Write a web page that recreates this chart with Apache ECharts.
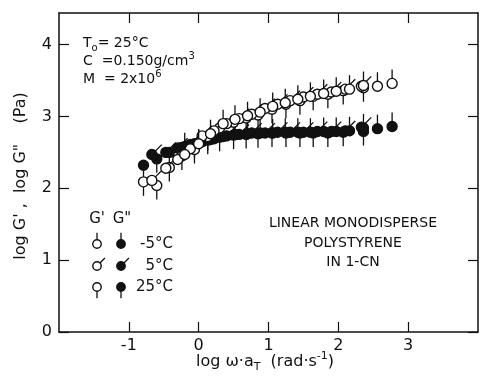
<!DOCTYPE html>
<html>
<head>
<meta charset="utf-8">
<script src="https://cdn.jsdelivr.net/npm/echarts@6/dist/echarts.min.js"></script>
<style>
  html, body { margin: 0; padding: 0; background: #fff; }
  #main { width: 480px; height: 381px; }
</style>
</head>
<body>
<div id="main"></div>
<script>
// tick positions
var xTicks = [-1, 0, 1, 2, 3];
var yTicks = [0, 1, 2, 3, 4];

// -5°C (pip up)
var xM5   = [-0.2, 0.0, 0.17, 0.35, 0.52, 0.7, 0.88, 1.06, 1.24, 1.42, 1.6, 1.79, 1.97, 2.16, 2.36, 2.56, 2.77];
var gpM5  = [2.47, 2.62, 2.76, 2.90, 2.96, 3.01, 3.06, 3.14, 3.19, 3.24, 3.28, 3.32, 3.35, 3.38, 3.43, 3.42, 3.46];
var gppM5 = [2.58, 2.63, 2.68, 2.72, 2.75, 2.76, 2.77, 2.77, 2.78, 2.78, 2.78, 2.79, 2.79, 2.80, 2.84, 2.83, 2.86];

// 5°C (pip diagonal)
var x5   = [-0.67, -0.47, -0.3, -0.12, 0.05, 0.22, 0.4, 0.58, 0.76, 0.95, 1.13, 1.31, 1.5, 1.7, 1.9, 2.1, 2.33];
var gp5  = [2.11, 2.28, 2.40, 2.55, 2.73, 2.80, 2.90, 2.97, 3.03, 3.11, 3.17, 3.22, 3.27, 3.31, 3.34, 3.38, 3.42];
var gpp5 = [2.47, 2.50, 2.56, 2.61, 2.65, 2.69, 2.73, 2.75, 2.77, 2.77, 2.78, 2.78, 2.78, 2.79, 2.79, 2.80, 2.85];

// 25°C (pip down)
var x25   = [-0.79, -0.6, -0.42, -0.24, -0.06, 0.13, 0.3, 0.5, 0.68, 0.85, 1.05, 1.25, 1.45, 1.64, 1.85, 2.07, 2.36];
var gp25  = [2.09, 2.04, 2.29, 2.45, 2.54, 2.72, 2.84, 2.92, 2.98, 3.02, 3.10, 3.17, 3.22, 3.28, 3.31, 3.36, 3.40];
var gpp25 = [2.32, 2.41, 2.50, 2.57, 2.62, 2.67, 2.71, 2.74, 2.75, 2.76, 2.77, 2.77, 2.77, 2.77, 2.77, 2.78, 2.79];

var ink = '#111';
var font = 'DejaVu Sans';
var R = 5, PIP = 9;
// pip directions: up, diagonal, down
var pipDir = [[0, -1], [0.7071, -0.7071], [0, 1]];

function pairs(xs, ys) {
    return xs.map(function (x, i) { return [x, ys[i]]; });
}

function marker(cx, cy, r, len, dir, filled) {
    return [{
        type: 'line',
        shape: {
            x1: cx + dir[0] * r, y1: cy + dir[1] * r,
            x2: cx + dir[0] * (r + len), y2: cy + dir[1] * (r + len)
        },
        style: { stroke: ink, lineWidth: 1.3 }
    }, {
        type: 'circle',
        shape: { cx: cx, cy: cy, r: r },
        style: { fill: filled ? ink : '#fff', stroke: ink, lineWidth: 1.4 }
    }];
}

function pointSeries(name, data, pip, filled) {
    return {
        name: name,
        type: 'custom',
        data: data,
        encode: { x: 0, y: 1 },
        renderItem: function (params, api) {
            var p = api.coord([api.value(0), api.value(1)]);
            return { type: 'group', children: marker(p[0], p[1], R, PIP, pipDir[pip], filled) };
        }
    };
}

// legend drawn as graphics
var legendRows = [
    { label: '-5°C', y: 244, pip: 0 },
    { label: '5°C', y: 266, pip: 1 },
    { label: '25°C', y: 287, pip: 2 }
];
var legendEls = [
    { type: 'text', x: 97, y: 219, style: { text: "G'", font: '15px ' + font, fill: ink, align: 'center', verticalAlign: 'middle' } },
    { type: 'text', x: 122, y: 219, style: { text: 'G"', font: '15px ' + font, fill: ink, align: 'center', verticalAlign: 'middle' } }
];
legendRows.forEach(function (row) {
    legendEls = legendEls.concat(marker(97, row.y, 4.2, 7, pipDir[row.pip], false));
    legendEls = legendEls.concat(marker(121, row.y, 4.2, 7, pipDir[row.pip], true));
    legendEls.push({ type: 'text', x: 173, y: row.y, style: { text: row.label, font: '15px ' + font, fill: ink, align: 'right', verticalAlign: 'middle' } });
});

var chart = echarts.init(document.getElementById('main'));
chart.setOption({
    animation: false,
    backgroundColor: '#fff',
    grid: { left: 59, right: 2, top: 13, bottom: 49 },
    xAxis: [{
        type: 'value', min: -2, max: 4, interval: 1, position: 'bottom',
        axisLine: { onZero: false, lineStyle: { color: ink, width: 1.5 } },
        axisTick: { inside: true, length: 10, customValues: xTicks, lineStyle: { color: ink, width: 1.2 } },
        axisLabel: { customValues: xTicks, color: ink, fontSize: 16, fontFamily: font, margin: 6 },
        splitLine: { show: false }
    }, {
        type: 'value', min: -2, max: 4, interval: 1, position: 'top',
        axisLine: { onZero: false, lineStyle: { color: ink, width: 1.5 } },
        axisTick: { inside: true, length: 10, customValues: xTicks, lineStyle: { color: ink, width: 1.2 } },
        axisLabel: { show: false },
        splitLine: { show: false }
    }],
    yAxis: [{
        type: 'value', min: 0, max: 4.44, interval: 1, position: 'left',
        axisLine: { show: true, onZero: false, lineStyle: { color: ink, width: 1.5 } },
        axisTick: { show: true, inside: true, length: 10, customValues: yTicks, lineStyle: { color: ink, width: 1.2 } },
        axisLabel: { customValues: yTicks, color: ink, fontSize: 16, fontFamily: font, margin: 7 },
        splitLine: { show: false }
    }, {
        type: 'value', min: 0, max: 4.44, interval: 1, position: 'right',
        axisLine: { show: true, onZero: false, lineStyle: { color: ink, width: 1.5 } },
        axisTick: { show: true, inside: true, length: 10, customValues: yTicks, lineStyle: { color: ink, width: 1.2 } },
        axisLabel: { show: false },
        splitLine: { show: false }
    }],
    graphic: [{
        type: 'text', x: 21, y: 176, rotation: Math.PI / 2,
        style: {
            text: "log G' ,  log G\"    (Pa)", font: '16px ' + font, fill: ink,
            align: 'center', verticalAlign: 'middle'
        }
    }, {
        type: 'text', x: 265, y: 362,
        style: {
            text: 'log ω·a{sub|T}  (rad·s{sup|-1})', font: '16px ' + font, fill: ink,
            align: 'center', verticalAlign: 'middle', lineHeight: 22,
            rich: {
                sub: { fontSize: 11, fontFamily: font, fill: ink, lineHeight: 11, verticalAlign: 'bottom' },
                sup: { fontSize: 11, fontFamily: font, fill: ink, lineHeight: 11, verticalAlign: 'top' }
            }
        }
    }, {
        type: 'text', x: 83, y: 43,
        style: {
            text: 'T{sub|o}= 25°C', font: '14px ' + font, fill: ink, verticalAlign: 'middle', lineHeight: 20,
            rich: { sub: { fontSize: 10, fontFamily: font, fill: ink, lineHeight: 10, verticalAlign: 'bottom' } }
        }
    }, {
        type: 'text', x: 83, y: 61,
        style: {
            text: 'C  =0.150g/cm{sup|3}', font: '14px ' + font, fill: ink, verticalAlign: 'middle', lineHeight: 20,
            rich: { sup: { fontSize: 10, fontFamily: font, fill: ink, lineHeight: 10, verticalAlign: 'top' } }
        }
    }, {
        type: 'text', x: 83, y: 79,
        style: {
            text: 'M  = 2x10{sup|6}', font: '14px ' + font, fill: ink, verticalAlign: 'middle', lineHeight: 20,
            rich: { sup: { fontSize: 10, fontFamily: font, fill: ink, lineHeight: 10, verticalAlign: 'top' } }
        }
    }, {
        type: 'text', x: 353, y: 243,
        style: {
            text: 'LINEAR MONODISPERSE\nPOLYSTYRENE\nIN 1-CN', font: '14px ' + font, fill: ink,
            align: 'center', verticalAlign: 'middle', lineHeight: 19.5
        }
    }, {
        type: 'group', children: legendEls
    }],
    series: [
        pointSeries("G'' 25°C", pairs(x25, gpp25), 2, true),
        pointSeries("G'' 5°C", pairs(x5, gpp5), 1, true),
        pointSeries("G'' -5°C", pairs(xM5, gppM5), 0, true),
        pointSeries("G' 25°C", pairs(x25, gp25), 2, false),
        pointSeries("G' 5°C", pairs(x5, gp5), 1, false),
        pointSeries("G' -5°C", pairs(xM5, gpM5), 0, false)
    ]
});
</script>
</body>
</html>
